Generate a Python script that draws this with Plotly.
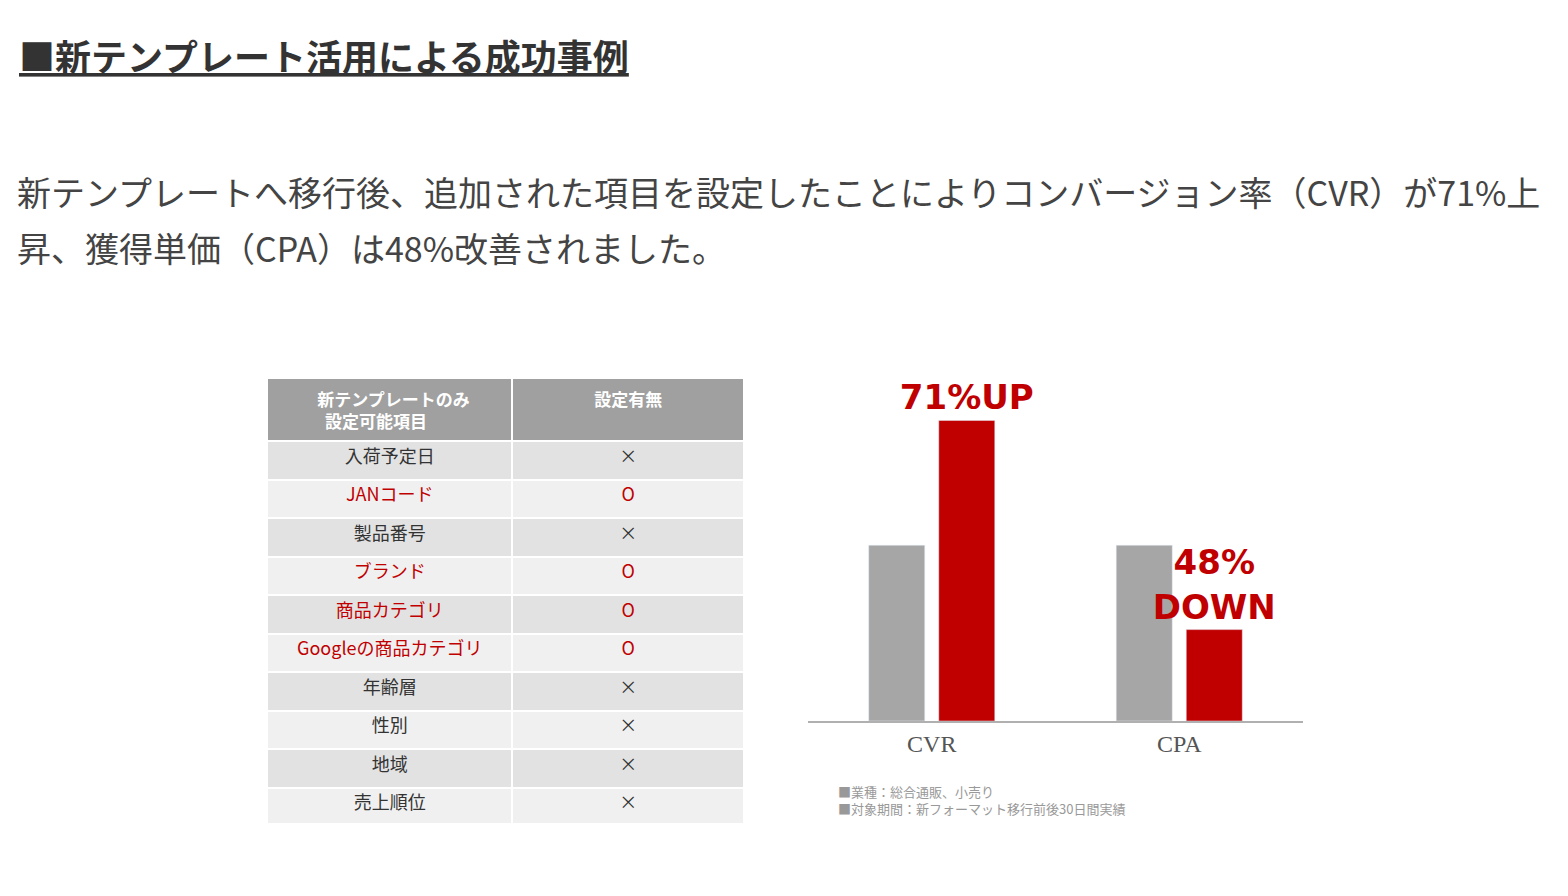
import plotly.graph_objects as go

items = ["入荷予定日", "JANコード", "製品番号", "ブランド", "商品カテゴリ",
         "Googleの商品カテゴリ", "年齢層", "性別", "地域", "売上順位"]
settable = ["×", "○", "×", "○", "○", "○", "×", "×", "×", "×"]

metrics = ["CVR", "CPA"]
before = [100, 100]
after = [171, 52]
labels = ["<b>71%UP</b>", "<b>48%<br>DOWN</b>"]

RED = "#c00000"
GRAY = "#a6a6a6"
FONT = "Noto Sans CJK JP"

W, H = 1568, 896
OFF = 8  # page body margin

def px_x(x):
    return (x - OFF) / W

def px_y(y):
    return 1 - (y - OFF) / H

text_colors = [RED if s == "○" else "#333333" for s in settable]
fills = ["#e2e2e2" if i % 2 == 0 else "#f0f0f0" for i in range(len(items))]

fig = go.Figure()

fig.add_trace(go.Table(
    domain=dict(x=[px_x(267), px_x(745)], y=[px_y(824), px_y(378)]),
    columnwidth=[246, 232],
    header=dict(
        values=["<b>  新テンプレートのみ<br>    設定可能項目</b>", "<b>設定有無</b>"],
        fill_color="#a0a0a0", line_color="white", line_width=2,
        font=dict(color="white", size=17, family=FONT), height=56, align="center"),
    cells=dict(
        values=[items, ["O" if s == "○" else s for s in settable]],
        fill_color=[fills, fills], line_color="white", line_width=2,
        font=dict(color=[text_colors, text_colors], size=18, family=FONT),
        height=38.5, align="center"),
))

fig.add_trace(go.Bar(x=metrics, y=before, marker_color=GRAY, showlegend=False,
                     xaxis="x", yaxis="y"))
fig.add_trace(go.Bar(x=metrics, y=after, marker_color=RED, showlegend=False,
                     text=labels, textposition="outside", constraintext="none",
                     textfont=dict(color=RED, size=34, family="DejaVu Sans"),
                     cliponaxis=False, xaxis="x", yaxis="y"))

fig.update_layout(
    width=W, height=H, margin=dict(l=0, r=0, t=0, b=0),
    paper_bgcolor="white", plot_bgcolor="white",
    font=dict(family=FONT),
    barmode="group", bargap=0.434, bargroupgap=0.2,
    xaxis=dict(domain=[px_x(808), px_x(1303)], showline=True, linecolor="#b0b0b0",
               linewidth=2, ticks="", fixedrange=True,
               tickfont=dict(size=24, color="#555555", family="DejaVu Sans Bold")),
    yaxis=dict(domain=[px_y(721), px_y(380)], range=[0, 194], visible=False,
               showgrid=False),
)

fig.add_annotation(x=px_x(17), y=px_y(55), xref="paper", yref="paper",
                   xanchor="left", yanchor="middle", showarrow=False,
                   text="<b><u>■新テンプレート活用による成功事例</u></b>",
                   font=dict(size=36, color="#333333"))
fig.add_annotation(x=px_x(15), y=px_y(192), xref="paper", yref="paper",
                   xanchor="left", yanchor="middle", showarrow=False,
                   text="新テンプレートへ移行後、追加された項目を設定したことによりコンバージョン率（CVR）が71%上",
                   font=dict(size=34, color="#444444"))
fig.add_annotation(x=px_x(15), y=px_y(248), xref="paper", yref="paper",
                   xanchor="left", yanchor="middle", showarrow=False,
                   text="昇、獲得単価（CPA）は48%改善されました。",
                   font=dict(size=34, color="#444444"))
fig.add_annotation(x=px_x(836), y=px_y(800), xref="paper", yref="paper",
                   xanchor="left", yanchor="middle", showarrow=False, align="left",
                   text="■業種：総合通販、小売り<br>■対象期間：新フォーマット移行前後30日間実績",
                   font=dict(size=13, color="#999999"))

fig.write_html("out.html")
